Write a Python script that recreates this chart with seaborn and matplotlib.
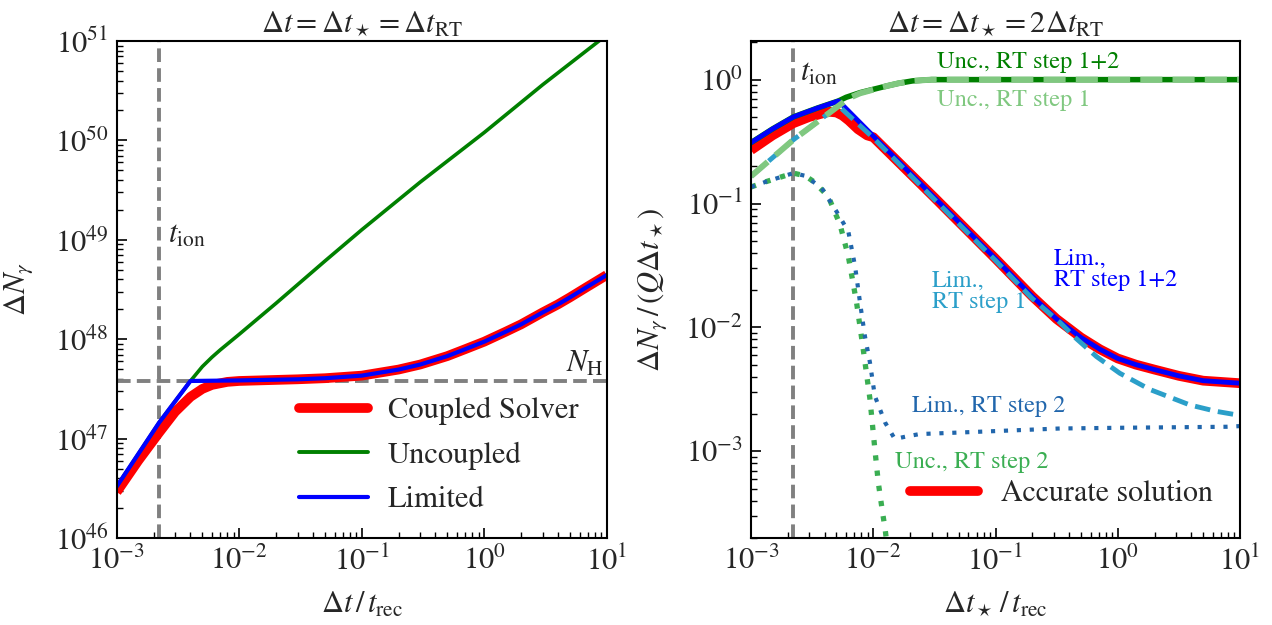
import numpy as np
import pandas as pd
import matplotlib
matplotlib.use("Agg")
import matplotlib.pyplot as plt
import seaborn as sns
from matplotlib.ticker import LogLocator, NullFormatter
from matplotlib.lines import Line2D

# ---------------- data: left panel ----------------
t_ion = 2.22e-3
N_H = 3.8e47

lim_x = [1e-3, 2.22e-3, 4.0e-3, 1e-2, 3e-2, 5e-2, 0.1, 0.2, 0.3, 0.5, 0.7, 1, 1.5, 2, 3, 4, 5,
         7, 10]
lim_y = [3.3e46, 1.45e47, 3.8e47, 3.85e47, 3.95e47, 4.05e47, 4.3e47, 4.95e47, 5.56e47, 6.76e47,
         7.94e47, 9.44e47, 1.19e48, 1.41e48, 1.86e48, 2.24e48, 2.63e48, 3.39e48, 4.42e48]

cpl_x = [1e-3, 1.5e-3, 2.22e-3, 3e-3, 4e-3, 5e-3, 6e-3, 8e-3, 1e-2, 3e-2, 5e-2, 0.1, 0.2, 0.3,
         0.5, 0.7, 1, 1.5, 2, 3, 4, 5, 7, 10]
cpl_y = [2.9e46, 6.0e46, 1.15e47, 1.86e47, 2.63e47, 3.16e47, 3.47e47, 3.72e47, 3.8e47, 3.95e47,
         4.05e47, 4.3e47, 4.95e47, 5.56e47, 6.76e47, 7.94e47, 9.44e47, 1.19e48, 1.41e48,
         1.86e48, 2.24e48, 2.63e48, 3.39e48, 4.42e48]

unc_x = [1e-3, 2.22e-3, 4e-3, 5e-3, 6e-3, 7e-3, 1e-2, 2e-2, 5e-2, 0.1, 0.3, 1, 3, 10]
unc_y = [3.3e46, 1.45e47, 3.8e47, 5.3e47, 6.6e47, 7.8e47, 1.12e48, 2.3e48, 6.1e48, 1.26e49,
         3.8e49, 1.2e50, 3.63e50, 1.15e51]

# ---------------- data: right panel ----------------
acc_x = [1e-3, 1.5e-3, 2.22e-3, 3e-3, 3.5e-3, 4.0e-3, 4.4e-3, 5.0e-3, 5.6e-3, 6.3e-3, 7.5e-3,
         8.9e-3, 1e-2, 3.16e-2, 0.1, 0.2, 0.316, 0.5, 0.714, 1, 1.41, 2, 3.16, 5, 10]
acc_y = [0.27, 0.355, 0.445, 0.50, 0.52, 0.54, 0.55, 0.543, 0.513, 0.468, 0.398, 0.355, 0.343,
         0.112, 0.0359, 0.0178, 0.0117, 0.0083, 0.00667, 0.00562, 0.00501, 0.00457, 0.00407,
         0.00372, 0.00355]

lim12_x = [1e-3, 1.5e-3, 2.22e-3, 3.5e-3, 5.2e-3, 1e-2, 3.16e-2, 0.1, 0.2, 0.316, 0.5, 0.714, 1,
           1.41, 2, 3.16, 5, 10]
lim12_y = [0.31, 0.40, 0.50, 0.59, 0.673, 0.351, 0.112, 0.0359, 0.0178, 0.0117, 0.0083, 0.00667,
           0.00562, 0.00501, 0.00457, 0.00407, 0.00372, 0.00355]

lim1_x = [1e-3, 2.22e-3, 5.2e-3, 1e-2, 3.16e-2, 0.1, 0.2, 0.336, 0.46, 0.67, 1.04, 1.83, 3.89,
          6.3, 10]
lim1_y = [0.166, 0.327, 0.614, 0.339, 0.108, 0.0347, 0.0171, 0.0110, 0.0081, 0.00582, 0.00427,
          0.00316, 0.00237, 0.00211, 0.00195]

lim2_x = [1e-3, 1.35e-3, 2.22e-3, 2.77e-3, 3.8e-3, 5.0e-3, 6.25e-3, 7.1e-3, 7.8e-3, 8.55e-3,
          9.4e-3, 1.03e-2, 1.25e-2, 1.5e-2, 1.87e-2, 2.4e-2, 5.1e-2, 0.336, 1, 7.76, 10]
lim2_y = [0.136, 0.151, 0.176, 0.1675, 0.133, 0.0865, 0.0597, 0.0312, 0.0158, 0.0085, 0.0052,
          0.0028, 0.00171, 0.00126, 0.00132, 0.00138, 0.00142, 0.00153, 0.00155, 0.00158, 0.0016]

unc12_x = [1e-3, 1.5e-3, 2.22e-3, 3.5e-3, 5.2e-3, 6e-3, 7.8e-3, 1e-2, 1.3e-2, 1.6e-2, 2.1e-2,
           3e-2, 10]
unc12_y = [0.31, 0.40, 0.50, 0.59, 0.673, 0.72, 0.785, 0.835, 0.89, 0.933, 0.977, 1.0, 1.0]

unc1_x = [1e-3, 2.22e-3, 5.2e-3, 6.3e-3, 7.8e-3, 1e-2, 1.3e-2, 1.6e-2, 2.1e-2, 3e-2, 10]
unc1_y = [0.166, 0.327, 0.614, 0.708, 0.776, 0.83, 0.89, 0.933, 0.977, 1.0, 1.0]

unc2_x = [1e-3, 1.35e-3, 2.22e-3, 2.77e-3, 3.24e-3, 4.29e-3, 5.35e-3, 6.25e-3, 7.31e-3, 8.28e-3,
          9.4e-3, 1.03e-2, 1.10e-2, 1.19e-2, 1.25e-2, 1.35e-2]
unc2_y = [0.136, 0.151, 0.176, 0.1675, 0.151, 0.114, 0.0676, 0.0376, 0.0158, 0.00667, 0.00264,
          0.00105, 0.00056, 0.000324, 0.000237, 0.000126]

# ---------------- style ----------------
sns.set_theme(style="ticks")
plt.rcParams["font.family"] = ["STIXGeneral", "DejaVu Serif"]
plt.rcParams["mathtext.fontset"] = "stix"
plt.rcParams["axes.linewidth"] = 1.5
plt.rcParams["axes.edgecolor"] = "black"

RED = "#ff0000"
BLUE = "#0000ff"
GREEN = "#008000"
LGREEN = "#80c880"
CYAN = "#2b9fc9"
DBLUE = "#2166ac"
MGREEN = "#3aae52"
GRAY = "#808080"
FS = 22

fig = plt.figure(figsize=(12.72, 6.25), dpi=100)
axL = fig.add_axes([116.7 / 1272, 1 - 538 / 625, 490 / 1272, 497 / 625])
axR = fig.add_axes([751 / 1272, 1 - 538 / 625, 489 / 1272, 497 / 625])

for ax in (axL, axR):
    ax.set_xscale("log")
    ax.set_yscale("log")


def line(ax, x, y, **kw):
    sns.lineplot(x=np.asarray(x, float), y=np.asarray(y, float), ax=ax, estimator=None,
                 sort=False, legend=False, **kw)


DASH = (0, (3.5, 1.6))

# ---------------- left panel ----------------
line(axL, cpl_x, cpl_y, color=RED, lw=7, solid_capstyle="butt")
line(axL, unc_x, unc_y, color=GREEN, lw=2.6)
line(axL, lim_x, lim_y, color=BLUE, lw=3)
axL.axvline(t_ion, color=GRAY, lw=2.8, linestyle=DASH, zorder=1)
axL.axhline(N_H, color=GRAY, lw=2.8, linestyle=DASH, zorder=1)
axL.set_xlim(1e-3, 10)
axL.set_ylim(1e46, 1e51)
axL.text(2.62e-3, 1.1e49, r"$t_{\rm ion}$", fontsize=FS, va="center", ha="left")
axL.text(0.995, N_H * 1.04, r"$N_{\rm H}$", fontsize=FS, va="bottom", ha="right",
         transform=axL.get_yaxis_transform())
axL.set_title(r"$\Delta t = \Delta t_\star = \Delta t_{\rm RT}$", fontsize=FS, pad=6)
axL.set_xlabel(r"$\Delta t\,/\,t_{\rm rec}$", fontsize=FS, labelpad=10)
axL.set_ylabel(r"$\Delta N_\gamma$", fontsize=FS)
axL.yaxis.set_label_coords(-0.167, 0.5)
hL = [Line2D([], [], color=RED, lw=7), Line2D([], [], color=GREEN, lw=2.8),
      Line2D([], [], color=BLUE, lw=3)]
axL.legend(hL, ["Coupled Solver", "Uncoupled", "Limited"], loc="lower right",
           bbox_to_anchor=(0.998, -0.008), frameon=False, fontsize=22, handlelength=2.25,
           handletextpad=0.65, labelspacing=0.53)

# ---------------- right panel ----------------
line(axR, acc_x, acc_y, color=RED, lw=7, solid_capstyle="butt")
line(axR, unc12_x, unc12_y, color=GREEN, lw=4.0)
line(axR, lim12_x, lim12_y, color=BLUE, lw=3.5)
line(axR, lim1_x, lim1_y, color=CYAN, lw=3.5, linestyle=(0, (3.2, 1.6)))
line(axR, unc1_x, unc1_y, color=LGREEN, lw=4.3, linestyle=(0, (3.7, 1.7)))
line(axR, unc2_x, unc2_y, color=MGREEN, lw=3.8, linestyle=(0, (1, 1.9)))
line(axR, lim2_x, lim2_y, color=DBLUE, lw=3.0, linestyle=(0, (1, 2.1)))
axR.axvline(t_ion, color=GRAY, lw=2.8, linestyle=DASH, zorder=1)
axR.set_xlim(1e-3, 10)
axR.set_ylim(2e-4, 2.05)
axR.text(2.51e-3, 1.12, r"$t_{\rm ion}$", fontsize=FS, va="center", ha="left")

ann = 17.5
axR.text(0.0332, 1.39, "Unc., RT step 1+2", color=GREEN, fontsize=ann, va="center")
axR.text(0.0332, 0.685, "Unc., RT step 1", color=LGREEN, fontsize=ann, va="center")
axR.text(0.0302, 0.0195, "Lim.,\nRT step 1", color=CYAN, fontsize=ann, va="center",
         linespacing=1.0)
axR.text(0.30, 0.0293, "Lim.,\nRT step 1+2", color=BLUE, fontsize=ann, va="center",
         linespacing=1.0)
axR.text(0.0207, 2.31e-3, "Lim., RT step 2", color=DBLUE, fontsize=ann, va="center")
axR.text(0.0150, 8.2e-4, "Unc., RT step 2", color=MGREEN, fontsize=ann, va="center")

axR.set_title(r"$\Delta t = \Delta t_\star = 2\Delta t_{\rm RT}$", fontsize=FS, pad=6)
axR.set_xlabel(r"$\Delta t_\star\,/\,t_{\rm rec}$", fontsize=FS, labelpad=10)
axR.set_ylabel(r"$\Delta N_\gamma\,/\,(Q\Delta t_\star)$", fontsize=FS)
axR.yaxis.set_label_coords(-0.168, 0.5)
axR.legend([Line2D([], [], color=RED, lw=7)], ["Accurate solution"], loc="lower right",
           bbox_to_anchor=(0.999, 0.006), frameon=False, fontsize=21.5, handlelength=2.3,
           handletextpad=0.75)

for ax in (axL, axR):
    ax.xaxis.set_major_locator(LogLocator(base=10, numticks=20))
    ax.xaxis.set_minor_locator(LogLocator(base=10, subs=np.arange(2, 10), numticks=50))
    ax.yaxis.set_major_locator(LogLocator(base=10, numticks=20))
    ax.yaxis.set_minor_locator(LogLocator(base=10, subs=np.arange(2, 10), numticks=50))
    ax.xaxis.set_minor_formatter(NullFormatter())
    ax.yaxis.set_minor_formatter(NullFormatter())
    ax.tick_params(which="both", direction="in", top=False, right=False, labelsize=FS,
                   color="black")
    ax.tick_params(which="major", length=7, width=1.2, pad=6)
    ax.tick_params(which="minor", length=4, width=1.0)
    for s in ax.spines.values():
        s.set_visible(True)
        s.set_linewidth(1.5)

fig.savefig("out.png", dpi=100)
